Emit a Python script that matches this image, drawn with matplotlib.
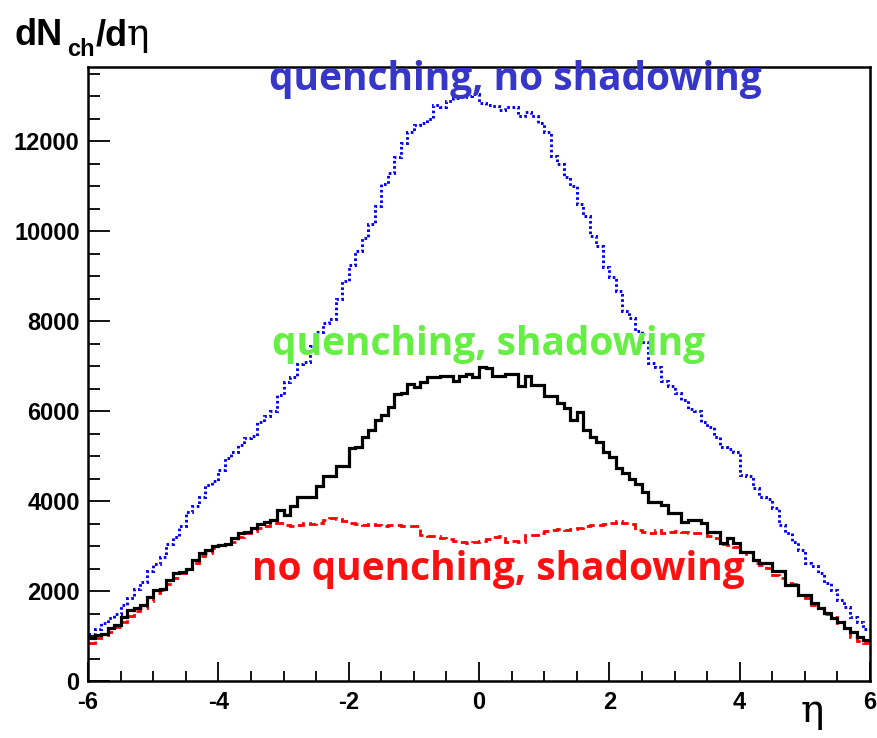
import numpy as np
import matplotlib
matplotlib.use("Agg")
import matplotlib.pyplot as plt
from matplotlib.ticker import MultipleLocator

plt.rcParams["axes.unicode_minus"] = False

# ---- data (dN/deta per bin of width 0.1, eta from -6 to 6) ----
eta_min, eta_max, n_bins = -6.0, 6.0, 120

quench_noshadow = [
    1050, 1150, 1300, 1400, 1500, 1700, 1850, 2050, 2200, 2450,
    2600, 2750, 3050, 3200, 3450, 3750, 3900, 4100, 4350, 4450,
    4700, 4950, 5100, 5250, 5400, 5450, 5750, 5900, 6000, 6350,
    6650, 6750, 7050, 7100, 7450, 7750, 7950, 8050, 8500, 8900,
    9250, 9550, 9850, 10150, 10550, 11050, 11300, 11650, 11950, 12200,
    12350, 12400, 12500, 12800, 12750, 12900, 12950, 12980, 13000, 13050,
    12850, 12800, 12780, 12700, 12750, 12750, 12550, 12650, 12550, 12400,
    12200, 11670, 11500, 11200, 11000, 10600, 10330, 9890, 9670, 9200,
    8980, 8660, 8220, 8080, 7770, 7530, 7080, 6990, 6660, 6550,
    6400, 6250, 6050, 6000, 5750, 5650, 5430, 5200, 5150, 5100,
    4590, 4550, 4300, 4100, 4050, 3850, 3470, 3300, 3100, 2920,
    2630, 2550, 2400, 2180, 2030, 1800, 1650, 1430, 1310, 1150,
]

quench_shadow = [
    960, 1020, 1050, 1180, 1250, 1430, 1580, 1620, 1690, 1870,
    2030, 2050, 2250, 2400, 2420, 2500, 2700, 2850, 2920, 3000,
    3030, 3050, 3180, 3300, 3320, 3400, 3500, 3530, 3590, 3810,
    3700, 3880, 4100, 4080, 4080, 4330, 4550, 4550, 4770, 4770,
    5190, 5210, 5430, 5590, 5810, 5920, 6100, 6370, 6410, 6610,
    6530, 6640, 6750, 6750, 6790, 6790, 6660, 6770, 6820, 6750,
    6990, 6950, 6770, 6770, 6820, 6820, 6550, 6770, 6590, 6590,
    6330, 6330, 6190, 6080, 5810, 5970, 5590, 5430, 5320, 5080,
    4990, 4740, 4630, 4480, 4370, 4210, 3990, 3990, 3920, 3740,
    3740, 3540, 3590, 3590, 3520, 3320, 3320, 3070, 3180, 3070,
    2870, 2870, 2700, 2630, 2630, 2450, 2450, 2140, 2140, 1920,
    1920, 1740, 1620, 1510, 1400, 1310, 1180, 1090, 980, 910,
]

noquench_shadow = [
    850, 950, 1020, 1100, 1200, 1320, 1450, 1550, 1620, 1780,
    1950, 2020, 2150, 2300, 2400, 2480, 2620, 2780, 2850, 2950,
    3020, 3050, 3100, 3200, 3280, 3330, 3400, 3450, 3520, 3520,
    3470, 3450, 3470, 3520, 3500, 3520, 3580, 3620, 3600, 3550,
    3520, 3500, 3470, 3480, 3460, 3450, 3470, 3460, 3440, 3450,
    3450, 3250, 3220, 3220, 3180, 3150, 3120, 3100, 3070, 3080,
    3120, 3160, 3200, 3220, 3100, 3120, 3100, 3250, 3250, 3280,
    3330, 3360, 3380, 3360, 3380, 3400, 3450, 3470, 3470, 3480,
    3520, 3550, 3520, 3500, 3350, 3320, 3300, 3350, 3300, 3320,
    3330, 3320, 3300, 3280, 3300, 3220, 3180, 3050, 3030, 2980,
    2870, 2820, 2620, 2580, 2520, 2350, 2300, 2180, 2150, 1920,
    1850, 1680, 1620, 1480, 1420, 1280, 1180, 980, 900, 850,
]

labels = ["quenching, no shadowing", "quenching, shadowing", "no quenching, shadowing"]
x_ticks = [-6, -4, -2, 0, 2, 4, 6]
y_ticks = [0, 2000, 4000, 6000, 8000, 10000, 12000]

# ---- figure ----
W, H, DPI = 877, 738, 100
fig = plt.figure(figsize=(W / DPI, H / DPI), dpi=DPI)
ax = fig.add_axes([88 / W, 1 - 681 / H, (870 - 88) / W, (681 - 67) / H])

edges = np.linspace(eta_min, eta_max, n_bins + 1)

ax.stairs(noquench_shadow, edges, baseline=None, color="#ff0000", lw=2.0,
          linestyle=(0, (3.2, 1.6)))
ax.stairs(quench_noshadow, edges, baseline=None, color="#0000ff", lw=2.1,
          linestyle=(0, (0.9, 0.9)))
ax.stairs(quench_shadow, edges, baseline=None, color="black", lw=2.3)

ax.set_xlim(eta_min, eta_max)
ax.set_ylim(0, 13650)

for s in ax.spines.values():
    s.set_linewidth(1.8)

ax.set_xticks(x_ticks)
ax.set_yticks(y_ticks)
ax.xaxis.set_minor_locator(MultipleLocator(0.5))
ax.yaxis.set_minor_locator(MultipleLocator(500))
ax.tick_params(which="both", direction="in", top=False, right=False, width=1.3)
ax.tick_params(which="major", axis="y", length=16)
ax.tick_params(which="minor", axis="y", length=8.5)
ax.tick_params(which="major", axis="x", length=14)
ax.tick_params(which="minor", axis="x", length=7)
ax.tick_params(axis="y", pad=6)
ax.tick_params(axis="x", pad=7)
for lab in ax.get_xticklabels() + ax.get_yticklabels():
    lab.set_fontfamily("Liberation Sans")
    lab.set_fontweight("bold")
    lab.set_fontsize(17)

# axis titles
fig.text(14 / W, 1 - 45 / H, r"dN", fontsize=26, fontweight="bold",
         family="Liberation Sans", ha="left", va="baseline")
fig.text(67 / W, 1 - 56 / H, r"ch", fontsize=17, fontweight="bold",
         family="Liberation Sans", ha="left", va="baseline")
fig.text(96 / W, 1 - 45 / H, r"/d", fontsize=26, fontweight="bold",
         family="Liberation Sans", ha="left", va="baseline")
fig.text(127 / W, 1 - 45 / H, "\u03b7", fontsize=27,
         family="DejaVu Serif", ha="left", va="baseline")
fig.text(812 / W, 1 - 722 / H, "\u03b7", fontsize=28,
         family="DejaVu Serif", ha="center", va="baseline")

# curve labels
lab_kw = dict(fontsize=28, fontweight="bold", family="Open Sans",
              ha="center", va="baseline")
ax.text(515 / W, 1 - 90 / H, labels[0], color="#3636c8", transform=fig.transFigure, **lab_kw)
ax.text(489 / W, 1 - 355 / H, labels[1], color="#66ee44", transform=fig.transFigure, **lab_kw)
ax.text(498 / W, 1 - 580 / H, labels[2], color="#ff1010", transform=fig.transFigure, **lab_kw)

fig.savefig("out.png", dpi=DPI)
